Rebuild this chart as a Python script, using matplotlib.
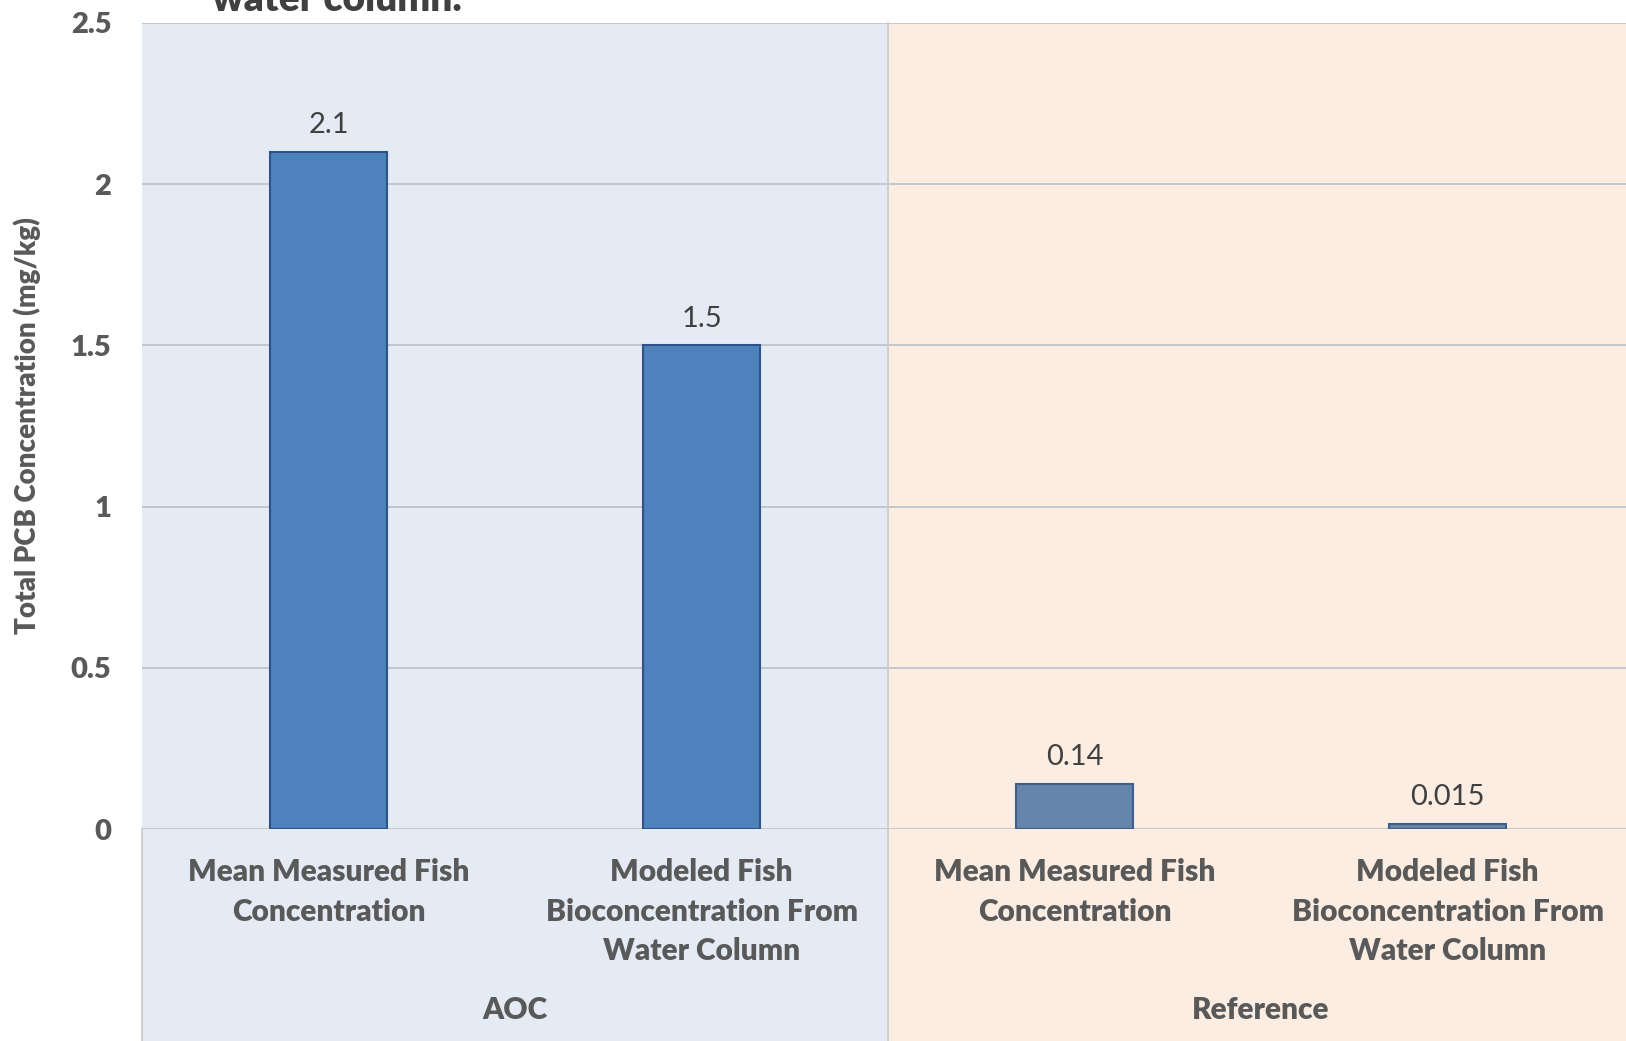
import matplotlib.pyplot as plt
from matplotlib.patches import Rectangle

# Total PCB concentration in fish, AOC vs reference site
groups = ['AOC', 'Reference']
categories = ['Mean Measured Fish\nConcentration',
              'Modeled Fish\nBioconcentration From\nWater Column',
              'Mean Measured Fish\nConcentration',
              'Modeled Fish\nBioconcentration From\nWater Column']
values = [2.1, 1.5, 0.14, 0.015]
value_labels = ['2.1', '1.5', '0.14', '0.015']
y_ticks = [0, 0.5, 1, 1.5, 2, 2.5]
y_tick_labels = ['0', '0.5', '1', '1.5', '2', '2.5']

plt.rcParams['font.family'] = ['Lato', 'DejaVu Sans']
BOLD = 'heavy'

fig = plt.figure(figsize=(16.26, 10.41), dpi=100)
ax = fig.add_axes([142 / 1626, 212 / 1041, 1492 / 1626, 806 / 1041])

xs = list(range(len(values)))
bar_colors = ['#4F81BD', '#4F81BD', '#6685AC', '#6685AC']
edge_colors = ['#2F5388', '#2F5388', '#3F5F88', '#3F5F88']

# shaded panels behind each group, reaching down under the category labels
panel_colors = ['#E4EBF5', '#FCEDE3']
for i, c in enumerate(panel_colors):
    ax.add_patch(Rectangle((-0.5 + 2 * i, -0.4), 2, 1.4, transform=ax.get_xaxis_transform(),
                           facecolor=c, edgecolor='none', zorder=0, clip_on=False))

ax.bar(xs, values, width=0.314, color=bar_colors, edgecolor=edge_colors, linewidth=1.5, zorder=3)

for x, v, lab in zip(xs, values, value_labels):
    ax.annotate(lab, (x, v), xytext=(0, 10), textcoords='offset points', ha='center', va='bottom',
                fontsize=21, color='#404040', zorder=4)

ax.set_xlim(-0.5, 3.5)
ax.set_ylim(0, 2.5)
ax.set_yticks(y_ticks)
ax.set_yticklabels(y_tick_labels, fontsize=21, fontweight=BOLD, color='#595959')
ax.tick_params(axis='y', length=0, pad=22)
ax.set_xticks([])
ax.grid(axis='y', color='#BFC4CC', linewidth=1.3, zorder=1)
ax.set_axisbelow(True)
for s in ax.spines.values():
    s.set_visible(False)
ax.axhline(0, color='#C8C8C8', linewidth=1.5, zorder=2)

# group divider and left edge below the axis
ax.plot([1.5, 1.5], [-0.4, 1], transform=ax.get_xaxis_transform(), color='#CCCCCC',
        linewidth=1.3, clip_on=False, zorder=2)
ax.plot([-0.5, -0.5], [-0.4, 0], transform=ax.get_xaxis_transform(), color='#CCCCCC',
        linewidth=1.3, clip_on=False, zorder=2)

for x, lab in zip(xs, categories):
    ax.text(x, -0.036, lab, transform=ax.get_xaxis_transform(), ha='center', va='top',
            fontsize=21.5, fontweight=BOLD, color='#595959', linespacing=1.5)

for i, g in enumerate(groups):
    ax.text(0.5 + 2 * i, -0.225, g, transform=ax.get_xaxis_transform(), ha='center', va='center',
            fontsize=21.5, fontweight=BOLD, color='#595959')

ax.set_ylabel('Total PCB Concentration (mg/kg)', fontsize=20, fontweight=BOLD, color='#595959')
ax.yaxis.set_label_coords(-0.068, 0.5)

fig.text(212 / 1626, 1 - 11 / 1041, 'water column.', ha='left', va='baseline',
         fontsize=28, fontweight=BOLD, color='#404040')

fig.savefig('out.png', dpi=100)
